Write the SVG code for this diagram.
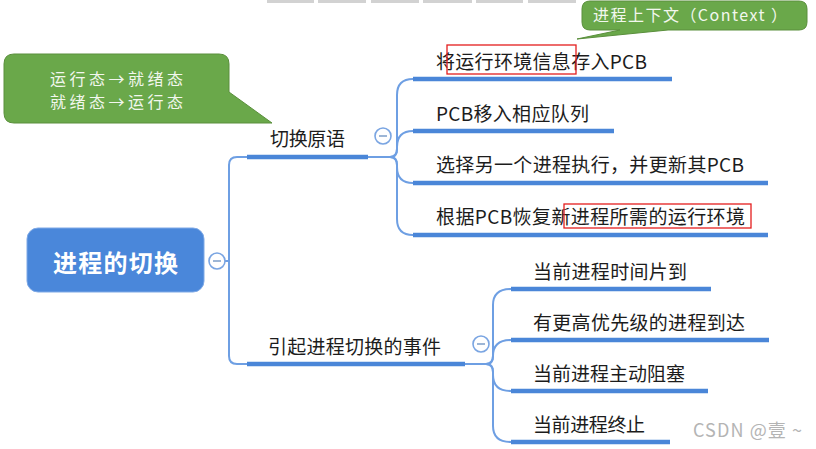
<svg xmlns="http://www.w3.org/2000/svg" width="816" height="449" viewBox="0 0 816 449">
<style>
text{font-family:"Noto Sans CJK SC","Noto Sans",sans-serif}
.t{font-size:19px;fill:#1c1c1c}
.ul{stroke:#4a86d8;stroke-width:4.5;fill:none}
.cn{stroke:#6e9fe3;stroke-width:2;fill:none}
.btn circle{fill:#fff;stroke:#7aa5e2;stroke-width:1.6}
.btn line{stroke:#9db6d6;stroke-width:2}
.red{fill:none;stroke:#e41e1e;stroke-width:1.3}
.callout{fill:#6aa84a;stroke:#5a8f3c;stroke-width:1}
.ct{font-size:16px;fill:#f2f7ee}
.tb{fill:#d2d2d2}
</style>

<g id="toolbar">
<rect class="tb" x="267" y="0" width="47" height="3"/>
<rect class="tb" x="318" y="0" width="48" height="3"/>
<rect class="tb" x="371" y="0" width="48" height="3"/>
<rect class="tb" x="423" y="0" width="49" height="3"/>
<rect class="tb" x="476" y="0" width="47" height="3"/>
<rect class="tb" x="528" y="0" width="48" height="3"/>
</g>

<g id="connectors">
<path class="cn" d="M225 261 H229"/>
<path class="cn" d="M247 157 H237 Q229 157 229 165 V356 Q229 364 237 364 H247"/>
<path class="cn" d="M368 157 H390 Q397 157 397 149 V95 Q397 79 413 79"/>
<path class="cn" d="M390 157 Q397 157 397 149 V147 Q397 131 413 131"/>
<path class="cn" d="M390 157 Q397 157 397 165 V167 Q397 183 413 183"/>
<path class="cn" d="M390 157 Q397 157 397 165 V219 Q397 235 413 235"/>
<path class="cn" d="M465 364 H486 Q493 364 493 356 V305 Q493 289 511 289"/>
<path class="cn" d="M486 364 Q493 364 493 356 Q493 340 511 340"/>
<path class="cn" d="M486 364 Q493 364 493 372 V375 Q493 391 511 391"/>
<path class="cn" d="M486 364 Q493 364 493 372 V426 Q493 442 511 442"/>
</g>

<g id="root">
<rect x="27" y="228" width="177" height="64" rx="11" fill="#4a87da" stroke="#7ea9e6" stroke-width="1"/>
<text x="115.5" y="272" text-anchor="middle" font-size="24" font-weight="bold" fill="#fff" textLength="125">进程的切换</text>
<g class="btn"><circle cx="217" cy="261" r="8"/><line x1="213" y1="261" x2="221" y2="261"/></g>
</g>

<g id="branch-switch">
<text class="t" x="270" y="146" font-size="18" textLength="75">切换原语</text>
<path class="ul" d="M247 157 H368"/>
<g class="btn"><circle cx="383" cy="136" r="8"/><line x1="379" y1="136" x2="387" y2="136"/></g>
</g>

<g id="n-save">
<text class="t" x="436" y="69" textLength="211">将运行环境信息存入PCB</text>
<path class="ul" d="M413 79 H672"/>
</g>
<g id="n-move">
<text class="t" x="436" y="121" textLength="153">PCB移入相应队列</text>
<path class="ul" d="M413 131 H614"/>
</g>
<g id="n-select">
<text class="t" x="436" y="172" textLength="308">选择另一个进程执行，并更新其PCB</text>
<path class="ul" d="M413 183 H768"/>
</g>
<g id="n-restore">
<text class="t" x="436" y="224" textLength="309">根据PCB恢复新进程所需的运行环境</text>
<path class="ul" d="M413 235 H768"/>
</g>

<g id="branch-events">
<text class="t" x="268" y="354" textLength="173">引起进程切换的事件</text>
<path class="ul" d="M247 364 H465"/>
<g class="btn"><circle cx="481" cy="344" r="8"/><line x1="477" y1="344" x2="485" y2="344"/></g>
</g>

<g id="e-timeslice">
<text class="t" x="533" y="279" textLength="154">当前进程时间片到</text>
<path class="ul" d="M511 289 H711"/>
</g>
<g id="e-priority">
<text class="t" x="533" y="330" textLength="212">有更高优先级的进程到达</text>
<path class="ul" d="M511 340 H769"/>
</g>
<g id="e-block">
<text class="t" x="533" y="381" textLength="152">当前进程主动阻塞</text>
<path class="ul" d="M511 391 H708"/>
</g>
<g id="e-end">
<text class="t" x="533" y="432" textLength="112">当前进程终止</text>
<path class="ul" d="M511 442 H670"/>
</g>

<g id="highlights">
<rect class="red" x="447" y="45" width="129" height="29"/>
<rect class="red" x="564" y="204" width="187" height="24"/>
</g>

<g id="callout-state">
<path class="callout" d="M14 54 H219 Q229 54 229 64 V92 L272 123 L219 123 H14 Q4 123 4 113 V64 Q4 54 14 54 Z"/>
<text class="ct" x="116.5" y="85" text-anchor="middle" textLength="133">运行态→就绪态</text>
<text class="ct" x="116.5" y="108" text-anchor="middle" textLength="133">就绪态→运行态</text>
</g>

<g id="callout-context">
<path class="callout" d="M590 1 H799 Q807 1 807 9 V22 Q807 30 799 30 H668 L577 39 L620 30 H590 Q582 30 582 22 V9 Q582 1 590 1 Z"/>
<text class="ct" x="593" y="21" font-size="17" textLength="194">进程上下文（Context ）</text>
</g>

<g id="watermark">
<text x="693" y="437" font-size="18" fill="#b4b4b4" textLength="109">CSDN @壹 ~</text>
</g>
</svg>
